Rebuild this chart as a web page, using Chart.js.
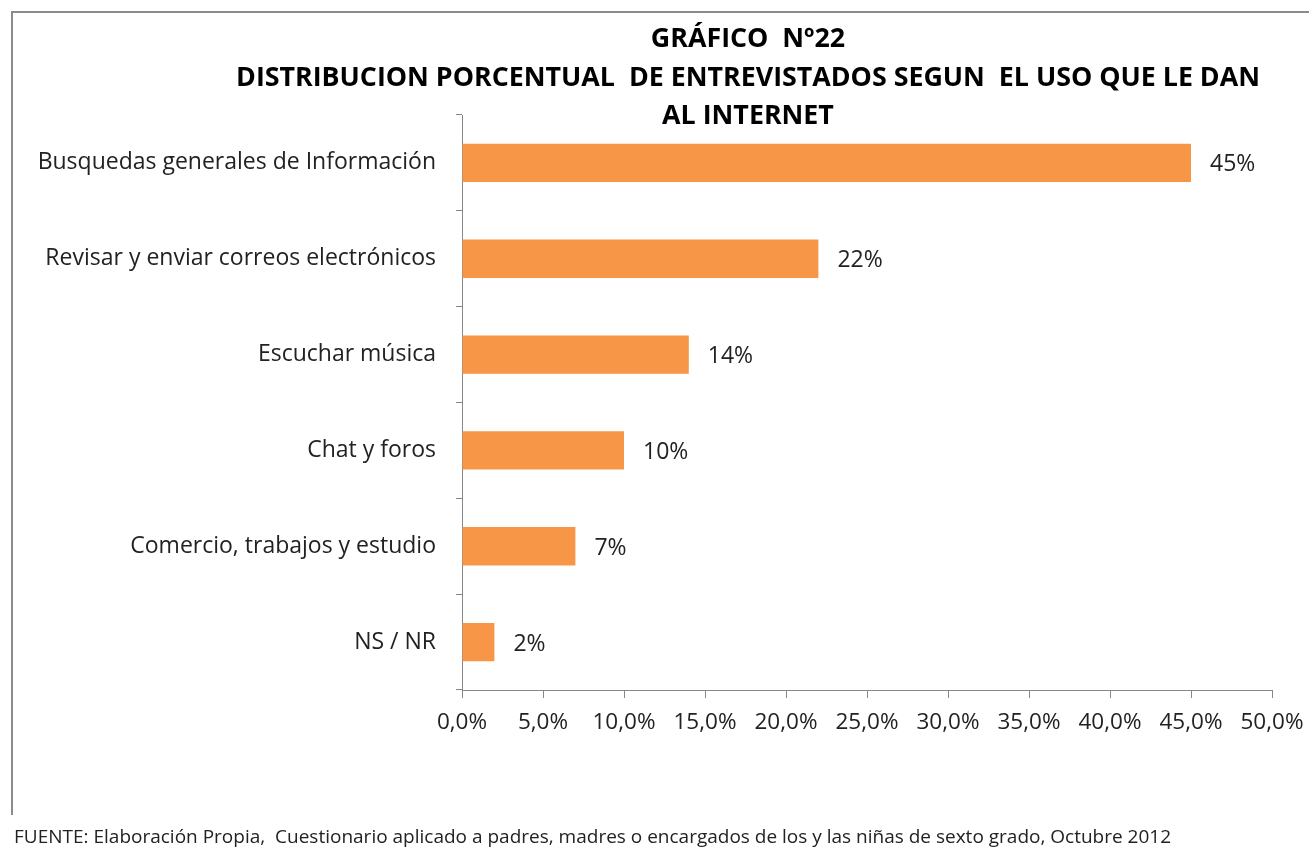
<!DOCTYPE html>
<html>
<head>
<meta charset="utf-8">
<script src="https://cdn.jsdelivr.net/npm/chart.js@4.4.1/dist/chart.umd.min.js"></script>
<style>
  html, body { margin: 0; padding: 0; background: #fff; }
  #wrap { position: relative; width: 1309px; height: 849px; }
</style>
</head>
<body>
<div id="wrap"><canvas id="chart" width="1309" height="849"></canvas></div>
<script>
const categories = [
  'Busquedas generales de Información',
  'Revisar y enviar correos electrónicos',
  'Escuchar música',
  'Chat y foros',
  'Comercio, trabajos y estudio',
  'NS / NR'
];
const values = [45, 22, 14, 10, 7, 2];
const valueLabels = ['45%', '22%', '14%', '10%', '7%', '2%'];
const titleLines = [
  'GRÁFICO  Nº22',
  'DISTRIBUCION PORCENTUAL  DE ENTREVISTADOS SEGUN  EL USO QUE LE DAN',
  'AL INTERNET'
];
const footerText = 'FUENTE: Elaboración Propia,  Cuestionario aplicado a padres, madres o encargados de los y las niñas de sexto grado, Octubre 2012';

const FONT = '"Open Sans", "Liberation Sans", sans-serif';
const ORANGE = '#F79646';
const AXIS = '#878787';

// border, title, footer and value labels
const decorations = {
  id: 'decorations',
  beforeDraw(chart) {
    const ctx = chart.ctx;
    ctx.save();
    ctx.strokeStyle = '#8c8c8c';
    ctx.lineWidth = 2;
    ctx.beginPath();
    ctx.moveTo(12, 815);
    ctx.lineTo(12, 12);
    ctx.lineTo(1309, 12);
    ctx.stroke();
    ctx.restore();
  },
  afterDraw(chart) {
    const ctx = chart.ctx;
    ctx.save();
    ctx.fillStyle = '#000';
    ctx.font = 'bold 26.8px ' + FONT;
    ctx.textAlign = 'center';
    ctx.textBaseline = 'middle';
    const ty = [39, 78, 116];
    titleLines.forEach((t, i) => ctx.fillText(t, 748, ty[i]));

    ctx.font = '19px ' + FONT;
    ctx.textAlign = 'left';
    ctx.fillStyle = '#222';
    ctx.fillText(footerText, 14, 838);

    const meta = chart.getDatasetMeta(0);
    ctx.font = '23px ' + FONT;
    meta.data.forEach((bar, i) => {
      ctx.fillText(valueLabels[i], bar.x + 19, bar.y + 2);
    });
    ctx.restore();
  }
};

new Chart(document.getElementById('chart'), {
  type: 'bar',
  data: {
    labels: categories,
    datasets: [{
      data: values,
      backgroundColor: ORANGE,
      borderWidth: 0,
      barPercentage: 0.4,
      categoryPercentage: 1
    }]
  },
  options: {
    indexAxis: 'y',
    responsive: false,
    animation: false,
    devicePixelRatio: 1,
    layout: { padding: { top: 115, right: 37, left: 0, bottom: 0 } },
    plugins: {
      legend: { display: false },
      tooltip: { enabled: false }
    },
    scales: {
      x: {
        min: 0,
        max: 50,
        afterFit(s) { s.height = 159; s.paddingRight = 0; s.paddingLeft = 0; },
        grid: { drawOnChartArea: false, drawTicks: true, tickLength: 8, color: AXIS },
        border: { display: true, color: AXIS, width: 1 },
        ticks: {
          stepSize: 5,
          padding: 11,
          color: '#222',
          font: { family: FONT, size: 22.5 },
          callback: v => v.toFixed(1).replace('.', ',') + '%'
        }
      },
      y: {
        afterFit(s) { s.width = 462; },
        grid: { drawOnChartArea: false, drawTicks: true, tickLength: 6, color: AXIS, offset: true },
        border: { display: true, color: AXIS, width: 1 },
        ticks: {
          padding: 20,
          color: '#222',
          font: { family: FONT, size: 23 }
        }
      }
    }
  },
  plugins: [decorations]
});
</script>
</body>
</html>
